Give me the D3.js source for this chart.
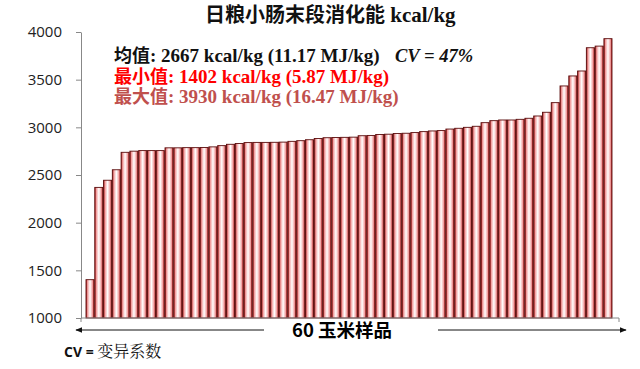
<!DOCTYPE html>
<html><head><meta charset="utf-8">
<script src="https://cdn.jsdelivr.net/npm/d3@7"></script>
<style>body{margin:0;background:#fff}svg{display:block}</style>
</head><body>
<svg id="c" width="640" height="369"></svg>
<script>
const samples = d3.range(1, 61).map(i => "S" + i);
const values = [1402, 2370, 2445, 2555, 2738, 2750, 2756, 2756, 2756, 2785,
  2785, 2787, 2787, 2789, 2795, 2808, 2822, 2830, 2840, 2842,
  2842, 2843, 2845, 2853, 2860, 2870, 2883, 2891, 2893, 2895,
  2897, 2912, 2915, 2925, 2928, 2935, 2938, 2945, 2955, 2962,
  2966, 2982, 2990, 3000, 3011, 3049, 3070, 3077, 3077, 3084,
  3095, 3119, 3158, 3259, 3434, 3539, 3591, 3835, 3852, 3930];
const yTicks = [1000, 1500, 2000, 2500, 3000, 3500, 4000];
const titleCn = "日粮小肠末段消化能";
const titleUnit = "kcal/kg";
const statLabels = ["均值", "最小值", "最大值"];
const statTexts = [": 2667 kcal/kg (11.17 MJ/kg)", ": 1402 kcal/kg (5.87 MJ/kg)", ": 3930 kcal/kg (16.47 MJ/kg)"];
const statColors = ["#111", "#ff0000", "#c0504d"];
const cvText = "CV = 47%";
const xLabel = "60 玉米样品";
const noteA = "CV = ", noteB = "变异系数";

const svg = d3.select("#c");
const y = d3.scaleLinear().domain([1000, 4000]).range([318, 32]);
const x = d3.scaleBand().domain(samples).range([86, 612]).paddingInner(0.08).paddingOuter(0);

const defs = svg.append("defs");
const g = defs.append("linearGradient").attr("id", "bg").attr("x1", "0").attr("x2", "1").attr("y1", "0").attr("y2", "0");
[[0, "#a01010"], [0.2, "#f2a0a0"], [0.5, "#ffffff"], [0.8, "#f2a0a0"], [1, "#a01010"]]
  .forEach(([o, c]) => g.append("stop").attr("offset", o).attr("stop-color", c));

// bars
svg.append("g").selectAll("rect").data(values).join("rect")
  .attr("x", (d, i) => x(samples[i]))
  .attr("width", x.bandwidth())
  .attr("y", d => y(d))
  .attr("height", d => y(1000) - y(d))
  .attr("fill", "url(#bg)")
  .attr("stroke", "#5a0d0d").attr("stroke-width", 0.9);

// y axis
const ya = svg.append("g").attr("transform", "translate(81,0)")
  .call(d3.axisLeft(y).tickValues(yTicks).tickSize(5).tickSizeOuter(0).tickPadding(14).tickFormat(d3.format("d")));
ya.select(".domain").attr("stroke", "#888");
ya.selectAll(".tick line").attr("stroke", "#888");
ya.selectAll(".tick text").attr("font-family", "'Open Sans', sans-serif").attr("font-size", 15).attr("fill", "#222");

// x axis line
svg.append("path").attr("d", `M81,${y(1000)}H619M81,${y(1000)}v4M619,${y(1000)}v4`)
  .attr("stroke", "#888").attr("fill", "none");

// arrow
const ay = 330;
defs.append("marker").attr("id", "ah").attr("viewBox", "0 0 10 10").attr("refX", 9).attr("refY", 5)
  .attr("markerWidth", 7).attr("markerHeight", 7).attr("orient", "auto-start-reverse")
  .append("path").attr("d", "M0,1L10,5L0,9z").attr("fill", "#111");
svg.append("line").attr("x1", 264).attr("x2", 76).attr("y1", ay).attr("y2", ay)
  .attr("stroke", "#111").attr("marker-end", "url(#ah)");
svg.append("line").attr("x1", 438).attr("x2", 626).attr("y1", ay).attr("y2", ay)
  .attr("stroke", "#111").attr("marker-end", "url(#ah)");
svg.append("text").attr("x", 342).attr("y", ay + 7).attr("text-anchor", "middle")
  .attr("font-family", "'Noto Sans CJK SC', sans-serif").attr("font-weight", "bold").attr("font-size", 18.5)
  .text(xLabel);

const cjk = "'Noto Sans CJK SC', sans-serif";
const serif = "'Liberation Serif', serif";
const mixed = "'Liberation Serif', 'Noto Sans CJK SC', serif";

// title
const t = svg.append("text").attr("x", 205).attr("y", 22).attr("fill", "#111").attr("font-weight", "bold")
  .style("white-space", "pre");
t.append("tspan").attr("font-family", cjk).attr("font-size", 20).text(titleCn);
t.append("tspan").attr("font-family", serif).attr("font-size", 21).text(" " + titleUnit);

// stats: one line per statistic
statLabels.forEach((l, i) => {
  const st = svg.append("text").attr("x", 114).attr("y", 62 + i * 20.5).attr("fill", statColors[i])
    .attr("font-weight", "bold").attr("font-family", mixed).style("white-space", "pre");
  st.append("tspan").attr("font-size", 18).text(l);
  st.append("tspan").attr("font-size", 19).text(statTexts[i]);
});
svg.append("text").attr("x", 395).attr("y", 62)
  .attr("font-family", serif).attr("font-weight", "bold").attr("font-style", "italic")
  .attr("font-size", 18.5).attr("fill", "#111").text(cvText);

// note
const n = svg.append("text").attr("x", 64).attr("y", 357).attr("fill", "#111").style("white-space", "pre");
n.append("tspan").attr("font-family", "'Open Sans', sans-serif").attr("font-weight", "bold").attr("font-size", 14).text(noteA);
n.append("tspan").attr("font-family", "'Noto Serif CJK SC', 'Noto Sans CJK SC', serif").attr("font-size", 16).text(noteB);
</script>
</body></html>
